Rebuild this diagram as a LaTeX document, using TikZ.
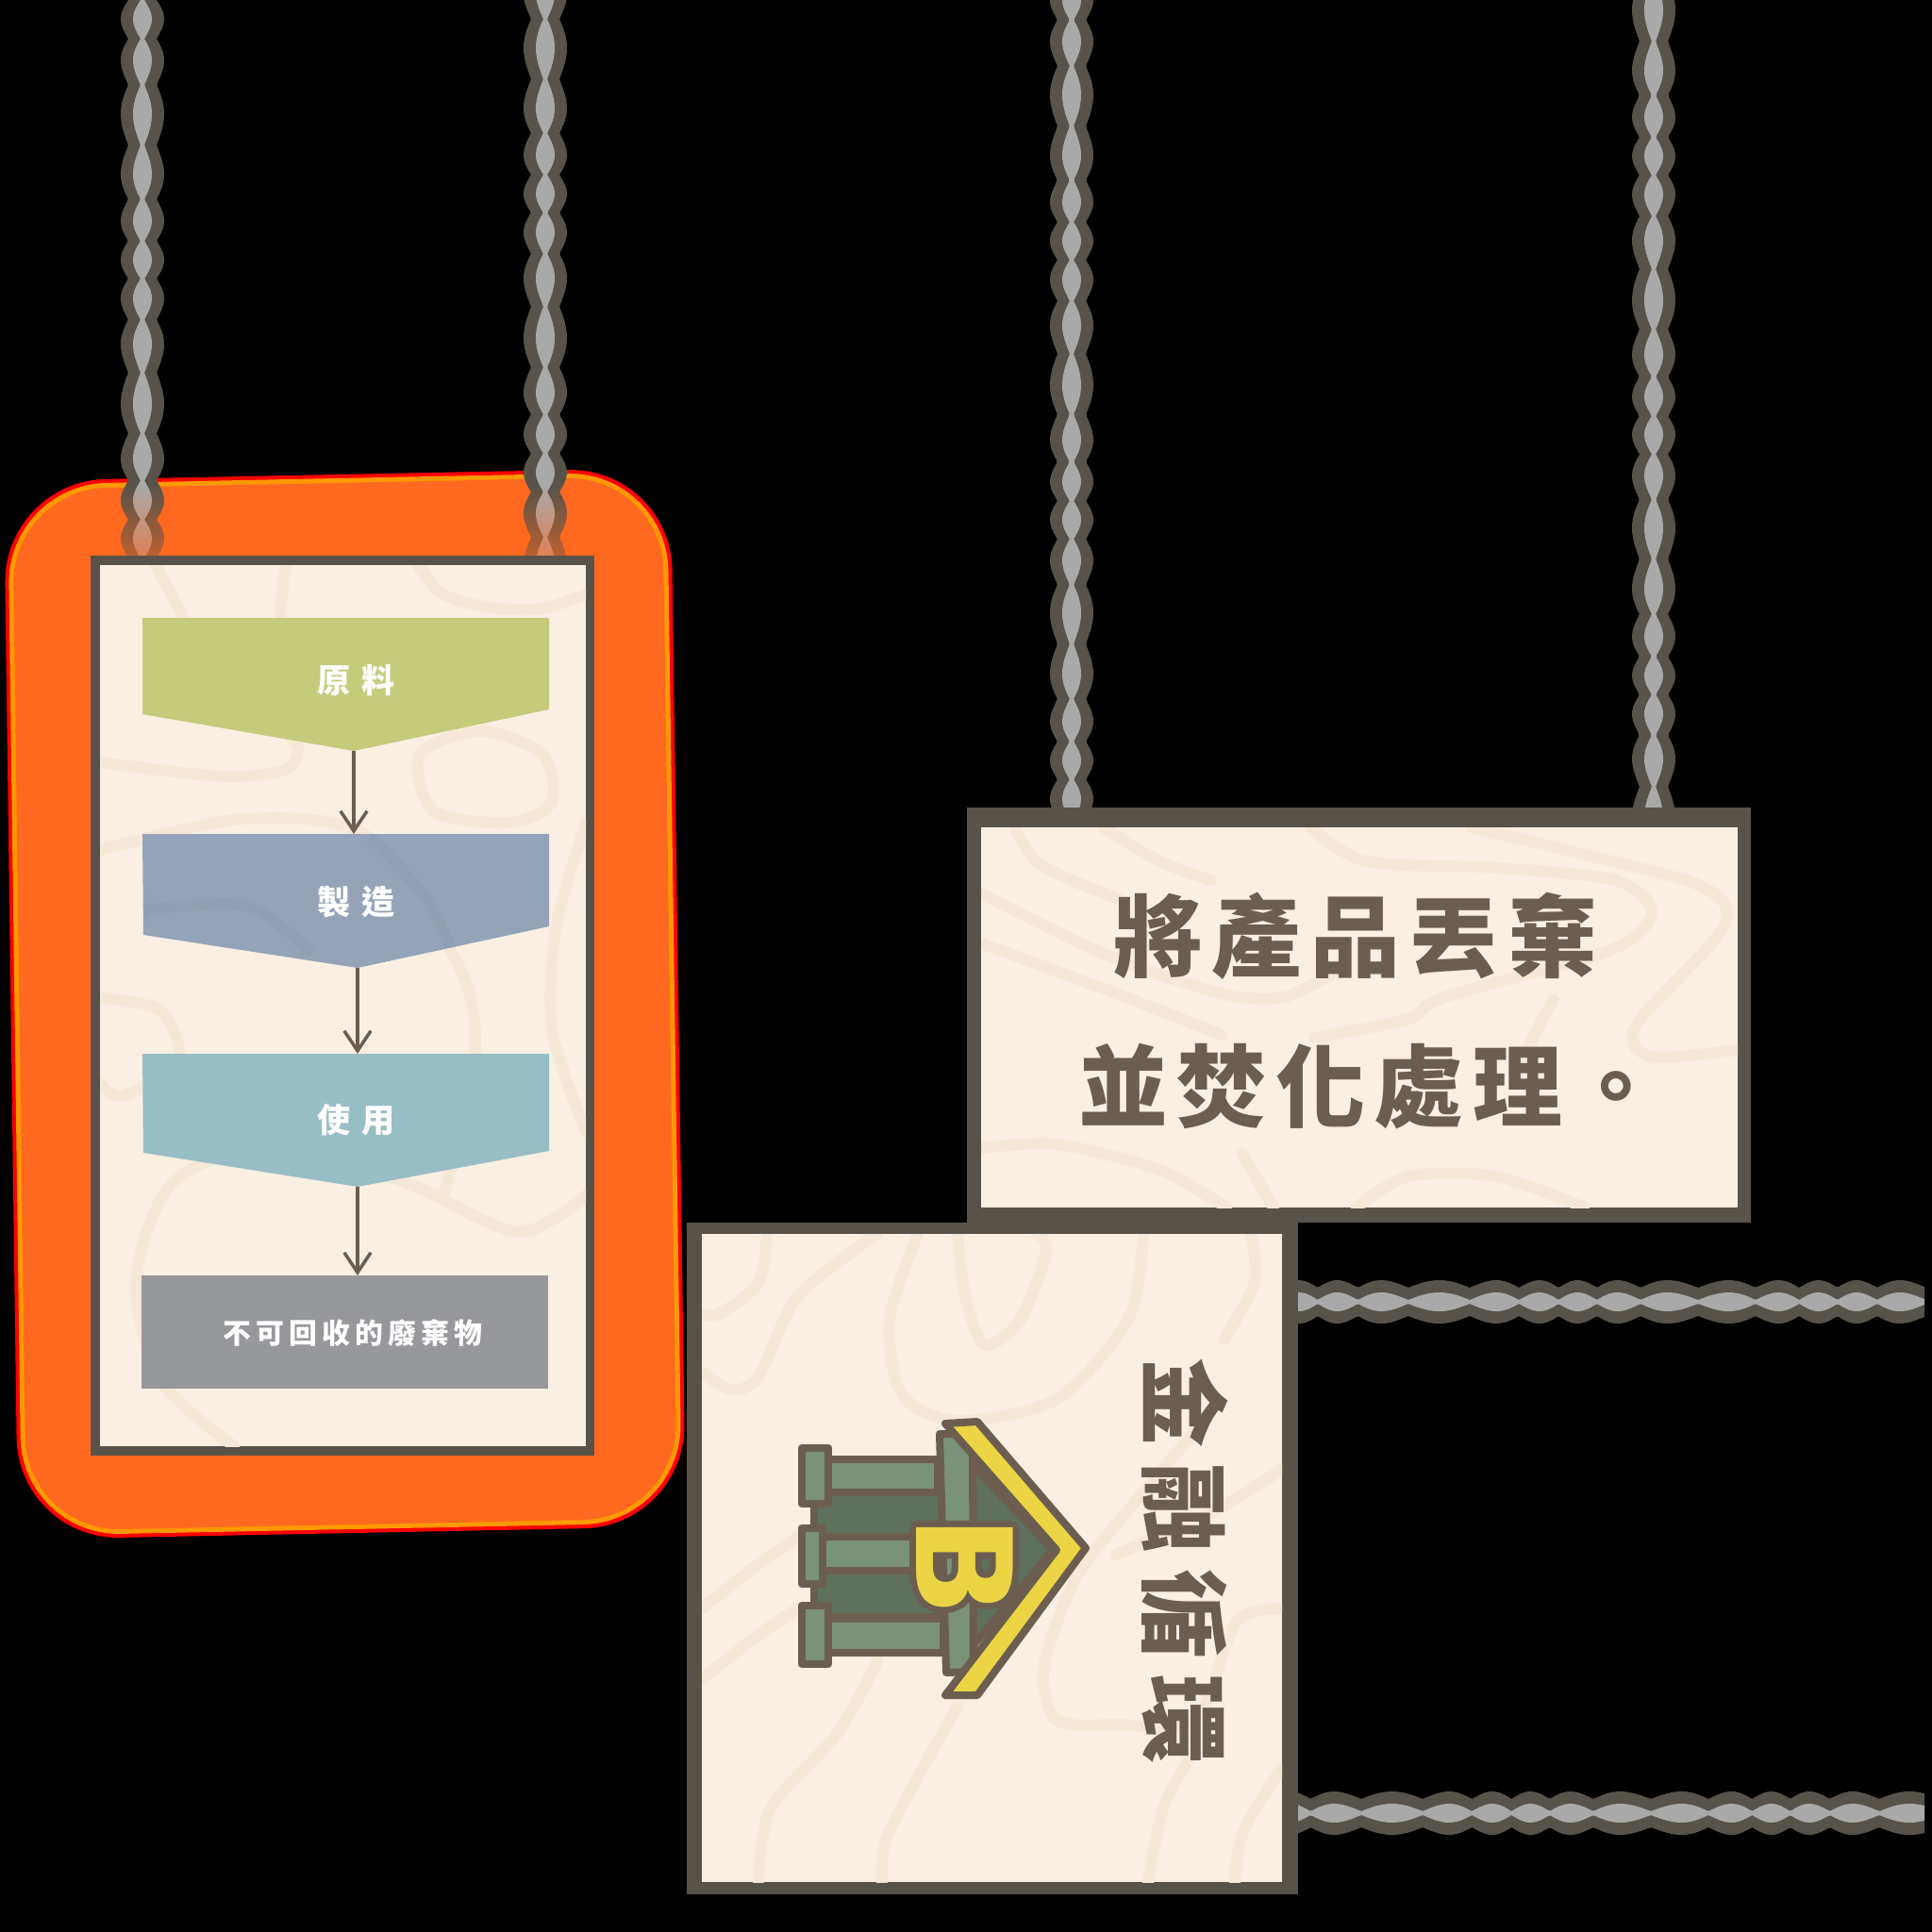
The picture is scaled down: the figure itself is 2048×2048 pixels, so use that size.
\documentclass[tikz,border=0pt]{standalone}
\usepackage{fontspec}
\usepackage{tikz}
\usetikzlibrary{arrows.meta}
\newfontfamily\cjk{Noto Sans CJK TC}
\setmainfont{DejaVu Sans}

\definecolor{signedge}{HTML}{57534A}
\definecolor{signcream}{HTML}{F9EFE3}
\definecolor{graincol}{HTML}{F6E8D7}
\definecolor{inkbrown}{HTML}{6B5E50}
\definecolor{ropegrey}{HTML}{A9A9A9}
\definecolor{glowcol}{HTML}{FF691F}
\definecolor{rawcol}{HTML}{C4CB7B}
\definecolor{makecol}{HTML}{94A3B8}
\definecolor{usecol}{HTML}{98BEC5}
\definecolor{wastecol}{HTML}{97989C}
\definecolor{pillarcol}{HTML}{7A917A}
\definecolor{bodycol}{HTML}{5F6F5D}
\definecolor{roofcol}{HTML}{EBD544}

\tikzset{
  grain/.style={draw=graincol, line width=12*0.2845pt, line cap=round},
  icon/.style={draw=inkbrown, line width=8*0.2845pt, line join=round},
  steplabel/.style={text=white, font=\cjk\bfseries\fontsize{10}{12}\selectfont\addfontfeature{LetterSpace=34}},
  signtext/.style={text=inkbrown, font=\cjk\bfseries\fontsize{27}{32}\selectfont\addfontfeature{LetterSpace=10}},
  flowarrow/.style={draw=inkbrown, line width=3.5*0.2845pt, -{Straight Barb[length=6pt,width=8pt]}}
}

% half width of a rope: #1 is the bead profile
\newcommand{\ropeV}[4]{
  \fill[signedge] plot[domain=#2:#3,samples=260] ({#1+15+8*beadr(\x+#4)},\x) -- plot[domain=#3:#2,samples=260] ({#1-15-8*beadr(\x+#4)},\x) -- cycle;
  \fill[ropegrey] plot[domain=#2:#3,samples=260] ({#1+2+8*beadr(\x+#4)},\x) -- plot[domain=#3:#2,samples=260] ({#1-2-8*beadr(\x+#4)},\x) -- cycle;
}
\newcommand{\ropeH}[4]{
  \fill[signedge] plot[domain=#2:#3,samples=260] (\x,{#1+15+8*beadr(\x+#4)}) -- plot[domain=#3:#2,samples=260] (\x,{#1-15-8*beadr(\x+#4)}) -- cycle;
  \fill[ropegrey] plot[domain=#2:#3,samples=260] (\x,{#1+2+8*beadr(\x+#4)}) -- plot[domain=#3:#2,samples=260] (\x,{#1-2-8*beadr(\x+#4)}) -- cycle;
}

\begin{document}
\begin{tikzpicture}[x=0.01cm,y=-0.01cm,
  declare function={beadr(\t)=abs(sin(3.6*\t+40*sin(1.3*\t)));}]

\fill[black] (0,0) rectangle (2048,2048);
\useasboundingbox (0,0) rectangle (2048,2048);

% Glow
\fill[red, rounded corners=1.08cm] (4,510) -- (711,496) -- (727,1618) -- (19,1632) -- cycle;
\fill[orange!80!yellow, rounded corners=1.05cm] (8,514) -- (707,500) -- (723,1614) -- (23,1628) -- cycle;
\fill[glowcol, rounded corners=1cm] (13,519) -- (702,505) -- (718,1609) -- (28,1623) -- cycle;

% Ropes
\ropeV{151}{0}{592}{0}
\ropeV{578}{0}{592}{70}
\ropeV{1136}{0}{860}{20}
\ropeV{1753}{0}{860}{110}
\ropeH{1380}{1365}{2040}{0}
\ropeH{1922}{1365}{2040}{50}

% Glow over the rope ends
\foreach \i in {0,...,15}
{
\fill[glowcol, opacity=0.04*\i] (115,{512+5*\i}) rectangle (187,{517+5*\i});
\fill[glowcol, opacity=0.04*\i] (542,{512+5*\i}) rectangle (614,{517+5*\i});
}

% Left sign
\fill[signedge] (96,589) rectangle (630,1543);
\fill[signcream] (106,599) rectangle (621,1533);
\begin{scope}
\clip (106,599) rectangle (621,1533);
\draw[grain] plot[smooth] coordinates {(165,600) (193,651)};
\draw[grain] plot[smooth] coordinates {(302,600) (297,651)};
\draw[grain] plot[smooth] coordinates {(444,600) (470,630) (519,644) (575,645) (621,630)};
\draw[grain] plot[smooth cycle] coordinates {(445,800) (510,775) (575,800) (585,850) (540,872) (460,860)};
\draw[grain] plot[smooth] coordinates {(106,808) (236,823) (302,816) (316,794) (302,775)};
\draw[grain] plot[smooth] coordinates {(106,901) (261,868) (392,888) (490,1032) (503,1136) (470,1267)};
\draw[grain] plot[smooth] coordinates {(106,1058) (170,1071) (189,1123) (131,1162) (106,1149)};
\draw[grain] plot[smooth] coordinates {(248,1533) (170,1463) (144,1358) (183,1254) (287,1215) (431,1254) (549,1306) (621,1267)};
\draw[grain] plot[smooth] coordinates {(621,873) (590,980) (585,1090) (621,1200)};
\end{scope}

% Flow shapes
\fill[rawcol] (151,655) -- (582,655) -- (582,752) -- (375,796) -- (151,757) -- cycle;
\fill[makecol] (151,884) -- (582,884) -- (582,982) -- (379,1026) -- (152,991) -- cycle;
\fill[usecol] (151,1117) -- (582,1117) -- (582,1220) -- (379,1258) -- (152,1222) -- cycle;
\fill[wastecol] (150,1352) rectangle (581,1472);

% Grain showing through the blue shape
\begin{scope}
\clip (151,884) -- (582,884) -- (582,982) -- (379,1026) -- (152,991) -- cycle;
\draw[black, opacity=0.02, line width=12*0.2845pt] plot[smooth] coordinates {(152,965) (261,960) (330,1010)};
\draw[black, opacity=0.02, line width=12*0.2845pt] plot[smooth] coordinates {(392,888) (450,950) (490,1032)};
\end{scope}

\node[steplabel] (raw) at (378,721) {原料};
\node[steplabel] (make) at (378,956) {製造};
\node[steplabel] (use) at (378,1187) {使用};
\node[steplabel, font=\cjk\bfseries\fontsize{8.5}{10}\selectfont\addfontfeature{LetterSpace=17}] (waste) at (374,1413) {不可回收的廢棄物};

\coordinate (rawtip) at (375,796);
\coordinate (maketop) at (375,884);
\coordinate (maketip) at (379,1026);
\coordinate (usetop) at (379,1117);
\coordinate (usetip) at (379,1258);
\coordinate (wastetop) at (379,1352);
\draw[flowarrow] (rawtip) -- (maketop);
\draw[flowarrow] (maketip) -- (usetop);
\draw[flowarrow] (usetip) -- (wastetop);

% Upper right sign
\fill[signedge] (1025,856) rectangle (1856,1296);
\fill[signcream] (1040,877) rectangle (1842,1280);
\begin{scope}
\clip (1040,877) rectangle (1842,1280);
\draw[grain] plot[smooth] coordinates {(1076,877) (1103,917) (1186,953)};
\draw[grain] plot[smooth] coordinates {(1169,877) (1229,913) (1284,933)};
\draw[grain] plot[smooth] coordinates {(1389,877) (1449,913) (1586,920) (1712,933) (1751,967) (1707,1007) (1531,1057) (1493,1080) (1394,1100)};
\draw[grain] plot[smooth] coordinates {(1559,877) (1668,903) (1805,940) (1827,983) (1734,1087) (1751,1120) (1842,1113)};
\draw[grain] plot[smooth] coordinates {(1040,1000) (1175,1050) (1295,1097)};
\draw[grain] plot[smooth] coordinates {(1040,947) (1175,1013) (1295,1053) (1361,1057) (1421,1027)};
\draw[grain] plot[smooth] coordinates {(1040,1217) (1120,1213) (1229,1240) (1300,1280)};
\draw[grain] plot[smooth] coordinates {(1317,1223) (1350,1280)};
\draw[grain] plot[smooth] coordinates {(1438,1280) (1493,1247) (1586,1247) (1679,1280)};
\draw[grain] plot[smooth] coordinates {(1646,1060) (1613,1123)};
\end{scope}
\node[signtext] (linea) at (1437,992) {將產品丟棄};
\node[signtext] (lineb) at (1452,1152) {並焚化處理。};

% Lower sign
\fill[signedge] (728,1296) rectangle (1376,2008);
\fill[signcream] (744,1308) rectangle (1359,1995);
\begin{scope}
\clip (744,1308) rectangle (1359,1995);
\draw[grain] plot[smooth] coordinates {(813,1308) (804,1360) (762,1393) (744,1393)};
\draw[grain] plot[smooth] coordinates {(930,1308) (846,1374) (804,1459) (775,1473) (744,1455)};
\draw[grain] plot[smooth] coordinates {(1015,1308) (1023,1374) (1044,1426) (1082,1398) (1109,1327) (1099,1308)};
\draw[grain] plot[smooth] coordinates {(973,1308) (943,1398) (956,1478) (1015,1506) (1120,1483) (1196,1398) (1212,1308)};
\draw[grain] plot[smooth] coordinates {(1326,1308) (1330,1360) (1297,1420)};
\draw[grain] plot[smooth] coordinates {(1358,1558) (1288,1601) (1183,1648)};
\draw[grain] plot[smooth] coordinates {(1358,1705) (1310,1720) (1267,1823) (1183,1828) (1120,1823) (1107,1766) (1141,1672) (1204,1591) (1276,1507)};
\draw[grain] plot[smooth] coordinates {(744,1705) (804,1658) (846,1629)};
\draw[grain] plot[smooth] coordinates {(744,1780) (804,1733) (846,1705)};
\draw[grain] plot[smooth] coordinates {(804,1995) (817,1917) (888,1837) (930,1761)};
\draw[grain] plot[smooth] coordinates {(935,1995) (943,1941) (1015,1809)};
\draw[grain] plot[smooth] coordinates {(1217,1995) (1233,1917) (1263,1860)};
\draw[grain] plot[smooth] coordinates {(1309,1995) (1318,1941) (1358,1875)};
\end{scope}

% Bank icon
\fill[bodycol, icon] (863,1582) rectangle (1006,1714);
\fill[bodycol, icon] (1029,1551) -- (1116,1643) -- (1031,1745) -- cycle;
\fill[pillarcol, icon] (878,1547) rectangle (994,1582);
\fill[pillarcol, icon] (872,1629) rectangle (985,1665);
\fill[pillarcol, icon] (878,1716) rectangle (1000,1752);
\fill[pillarcol, icon] (850,1535) rectangle (878,1594);
\fill[pillarcol, icon] (850,1620) rectangle (872,1679);
\fill[pillarcol, icon] (850,1702) rectangle (878,1764);
\fill[pillarcol, icon] (996,1520) -- (1016,1520) -- (1031,1535) -- (1032,1772) -- (1003,1773) -- cycle;
\fill[roofcol, icon] (1002,1509) -- (1036,1507) -- (1151,1641) -- (1036,1797) -- (1002,1797) -- (1120,1643) -- cycle;

% Letter on the bank
\foreach \dx/\dy in {-7/0,7/0,0/-7,0/7,-5/-5,5/-5,-5/5,5/5}
\node[text=inkbrown, rotate=-90, font=\bfseries\fontsize{40}{40}\selectfont] at (1023+\dx,1660+\dy) {B};
\node[text=roofcol, rotate=-90, font=\bfseries\fontsize{40}{40}\selectfont] (bankletter) at (1023,1660) {B};

\node[signtext, rotate=-90, font=\cjk\bfseries\fontsize{27}{32}\selectfont\addfontfeature{LetterSpace=18}] (loop) at (1256,1655) {金融循環};

\end{tikzpicture}
\end{document}
